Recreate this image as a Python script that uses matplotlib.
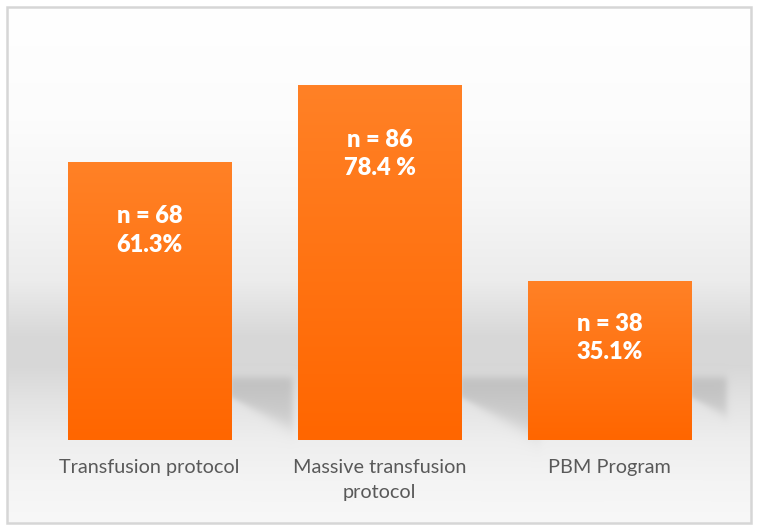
import numpy as np
import matplotlib
matplotlib.use("Agg")
import matplotlib.pyplot as plt
from matplotlib.patches import Rectangle

categories = ["Transfusion protocol", "Massive transfusion\nprotocol", "PBM Program"]
counts = [68, 86, 38]
percents = [61.3, 78.4, 35.1]
pct_labels = ["61.3%", "78.4 %", "35.1%"]

# pixel offsets of the two label lines below each bar top
line_offsets = [(54, 83), (55, 83), (43, 71)]

W, H = 758, 532
fig = plt.figure(figsize=(W / 100, H / 100), dpi=100)
fig.patch.set_facecolor("white")

bg = fig.add_axes([0, 0, 1, 1], zorder=0)
bg.set_xlim(0, W)
bg.set_ylim(H, 0)
bg.axis("off")

ax = fig.add_axes([34.5 / W, 92 / H, 690 / W, 407.5 / H], zorder=1)
ax.set_xlim(-0.5, 2.5)
ax.set_ylim(0, 90)
ax.patch.set_alpha(0)
ax.axis("off")

x = np.arange(len(categories))
bar_w = 0.71

# background: soft grey floor band plus perspective shadows behind the bars
yy, xx = np.mgrid[0:H, 0:W].astype(float)
prof_y = [8, 120, 200, 280, 335, 365, 400, 440, 480, 522]
prof_v = [255, 252, 246, 236, 216, 215, 227, 238, 244, 248]
gray = np.interp(yy, prof_y, prof_v)


def step(d, w):
    return 0.5 * (1 + np.tanh(d / w))


shade = np.zeros_like(gray)
for xi, v in zip(x, percents):
    (l, t) = ax.transData.transform((xi - bar_w / 2, v))
    (r, b) = ax.transData.transform((xi + bar_w / 2, 0))
    t, b = H - t, H - b
    length = 0.22 * (b - t)
    edge = 397 + 0.5 * np.clip(xx - r, 0, None)
    m = (step(xx - r, 1.5) * step(r + length - xx, 4)
         * step(yy - 377, 5) * step(edge - yy, 3 + 0.12 * np.clip(xx - r, 0, None)))
    shade = np.maximum(shade, m)
gray = gray - 28 * shade

img = np.dstack([gray, gray, gray]) / 255.0
bg.imshow(img, extent=(0, W, H, 0), aspect="auto", zorder=0)
# white margin outside the frame
for rect in [(0, 0, W, 7), (0, 523, W, 9), (0, 0, 7, H), (751, 0, 7, H)]:
    bg.add_patch(Rectangle(rect[:2], rect[2], rect[3], facecolor="white",
                           edgecolor="none", zorder=1))
bg.add_patch(Rectangle((7, 7), 744, 516, facecolor="none",
                       edgecolor="#d6d6d6", linewidth=1.8, zorder=2))

# bars with a vertical orange gradient
bars = ax.bar(x, percents, width=bar_w, color="#ff7a1a",
              edgecolor="#ffa060", linewidth=0.6, zorder=2)
grad = np.linspace(0, 1, 256).reshape(-1, 1)
top_c = np.array([255, 129, 38]) / 255
bot_c = np.array([255, 102, 0]) / 255
grad_img = top_c * (1 - grad[..., None]) + bot_c * grad[..., None]
for bar in bars:
    bx, by = bar.get_x(), bar.get_y()
    im = ax.imshow(grad_img, extent=(bx, bx + bar.get_width(), by, by + bar.get_height()),
                   origin="upper", aspect="auto", zorder=2.5)
    im.set_clip_path(bar)

ax.set_xlim(-0.5, 2.5)
ax.set_ylim(0, 90)

for xi, v, n, p, (o1, o2) in zip(x, percents, counts, pct_labels, line_offsets):
    ax.annotate(f"n = {n}", (xi, v), xytext=(0, -o1), textcoords="offset pixels",
                ha="center", va="center", color="white", fontsize=17,
                fontweight="heavy", family="Lato", zorder=3)
    ax.annotate(p, (xi, v), xytext=(0, -o2), textcoords="offset pixels",
                ha="center", va="center", color="white", fontsize=17,
                fontweight="heavy", family="Lato", zorder=3)

for xi, cat in zip(x, categories):
    ax.annotate(cat, (xi, 0), xytext=(0, -19), textcoords="offset pixels",
                ha="center", va="top", color="#595959", fontsize=14.3,
                family="Lato", linespacing=1.6, zorder=3)

fig.savefig("out.png", dpi=100)
